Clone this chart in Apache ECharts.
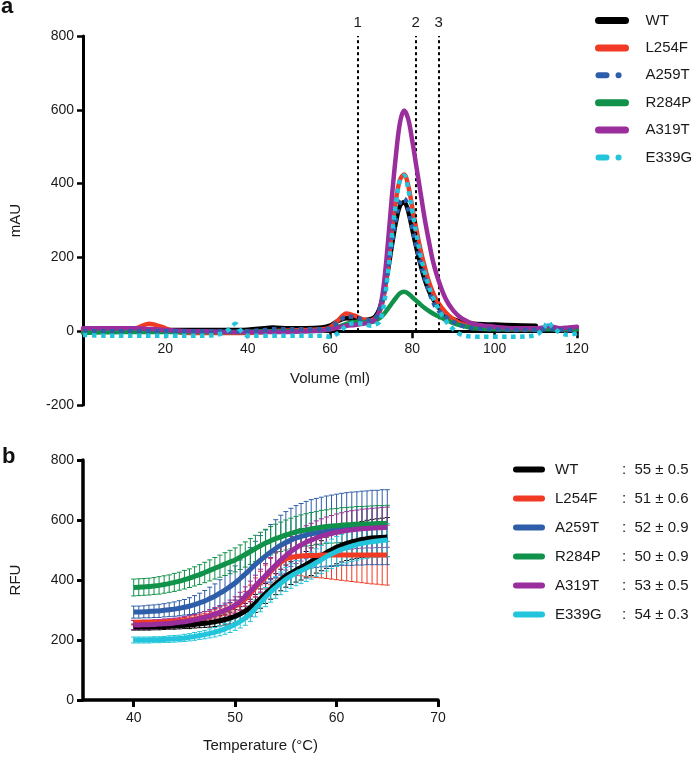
<!DOCTYPE html>
<html>
<head>
<meta charset="utf-8">
<script src="https://cdn.jsdelivr.net/npm/echarts@6/dist/echarts.min.js"></script>
<style>
html,body{margin:0;padding:0;background:#fff;}
#chart{width:700px;height:757px;}
</style>
</head>
<body>
<div id="chart"></div>
<script>
// ---------- Panel a: size-exclusion chromatography ----------
const seriesNames = ['WT', 'L254F', 'A259T', 'R284P', 'A319T', 'E339G'];
const volume = [0, 5, 10, 13, 16, 19, 22, 26, 30, 34, 36, 37, 38, 40, 44, 46, 50, 54, 58, 60,
  62, 64, 66, 68, 70, 71, 72, 73, 74, 75, 76, 77, 78, 79, 80, 81, 82, 83, 84, 85,
  86, 88, 90, 92, 95, 100, 105, 110, 112, 113, 114, 116, 118, 120];
const absWT = [5, 5, 5, 5, 5, 5, 3, 3, 3, 3, 3, 3, 3, 4, 8, 10, 8, 8, 10, 15,
  28, 35, 33, 30, 33, 40, 60, 100, 160, 230, 295, 340, 350, 325, 275, 225, 180, 140, 110, 88,
  70, 45, 32, 25, 20, 18, 16, 15, null, null, null, null, null, null];
const absL254F = [3, 3, 3, 8, 20, 12, 0, -5, -5, -5, -5, -5, -5, -5, -3, 0, 2, 3, 5, 10,
  30, 48, 42, 32, 30, 35, 50, 90, 170, 270, 355, 410, 425, 395, 335, 275, 220, 175, 135, 105,
  82, 52, 32, 20, 12, 8, 5, 5, 8, 10, 8, 5, 5, 5];
const absA259T = [0, 0, 0, 0, 0, 0, 0, 0, 0, 0, 0, 0, 0, 0, 3, 5, 5, 5, 5, 8,
  25, 40, 38, 32, 30, 35, 55, 95, 160, 235, 305, 350, 360, 330, 280, 230, 185, 145, 110, 80,
  60, 40, 25, 15, 8, 5, 3, 3, 5, 8, 6, 3, 3, 3];
const absR284P = [-5, -3, -2, -2, -2, -2, -2, -2, -2, -2, -2, -2, -2, -2, 0, 0, 0, 0, 2, 5,
  12, 20, 25, 25, 25, 28, 35, 45, 60, 75, 90, 103, 107, 102, 92, 82, 72, 63, 55, 48,
  42, 32, 22, 15, 8, 5, 5, 5, 5, 5, 5, 5, 5, 5];
const absA319T = [8, 8, 8, 8, 6, 4, 2, 0, 0, -2, -2, -2, -2, -2, -2, -2, -2, 0, 2, 5,
  10, 15, 17, 20, 25, 32, 55, 120, 230, 360, 475, 565, 598, 575, 515, 445, 375, 305, 245, 190,
  150, 90, 55, 35, 20, 12, 8, 8, 10, 15, 12, 8, 10, 12];
const absE339G = [-10, -12, -12, -12, -12, -12, -12, -12, -12, -5, 10, 20, 5, -12, -12, -12, -12, -12, -12, -15,
  -5, 15, 22, 20, 15, 18, 25, 65, 150, 255, 345, 410, 422, 385, 325, 262, 205, 160, 122, 92,
  68, 30, 5, -10, -15, -15, -15, -10, 10, 25, 12, -5, -10, -5];
const fractionVolumes = [66.7, 80.8, 86.4];
const fractionLabels = ['1', '2', '3'];
const volumeTicks = [0, 20, 40, 60, 80, 100, 120];
const mauTicks = [-200, 0, 200, 400, 600, 800];

// ---------- Panel b: thermal shift ----------
const tempC = [40, 40.5, 41, 41.5, 42, 42.5, 43, 43.5, 44, 44.5,
  45, 45.5, 46, 46.5, 47, 47.5, 48, 48.5, 49, 49.5,
  50, 50.5, 51, 51.5, 52, 52.5, 53, 53.5, 54, 54.5,
  55, 55.5, 56, 56.5, 57, 57.5, 58, 58.5, 59, 59.5,
  60, 60.5, 61, 61.5, 62, 62.5, 63, 63.5, 64, 64.5, 65];
const rfuWT = [243,243,243,243,244,244,245,246,247,248,
  249,250,252,254,256,258,261,264,268,273,
  279,287,296,308,322,338,355,370,386,400,
  413,423,433,442,451,461,471,481,491,500,
  509,516,522,527,531,535,538,540,541,542,543];
const rfuL254F = [258,258,258,258,259,259,260,261,262,263,
  265,267,270,273,277,282,287,292,298,305,
  313,323,337,355,375,393,410,428,445,459,
  470,475,478,480,481,482,482,483,483,483,
  483,483,483,483,483,483,483,483,483,483,483];
const rfuA259T = [293,293,294,295,296,297,299,301,303,306,
  309,313,318,324,330,338,346,356,366,378,
  390,405,420,436,452,466,480,493,505,516,
  525,533,540,545,550,554,557,560,563,565,
  567,569,570,571,572,573,574,575,575,576,576];
const rfuR284P = [375,376,377,378,380,382,385,388,392,396,
  401,406,412,418,425,432,439,446,453,460,
  467,476,485,495,505,514,523,531,538,544,
  550,555,560,564,567,570,573,576,578,580,
  581,583,584,585,586,586,587,587,588,588,589];
const rfuA319T = [250,250,251,251,252,253,254,255,257,259,
  261,264,267,271,275,280,286,292,299,307,
  316,329,345,362,380,398,415,433,450,466,
  481,495,507,517,526,533,540,546,551,555,
  559,562,565,567,569,571,572,573,574,575,576];
const rfuE339G = [200,200,200,200,201,201,202,203,204,205,
  207,209,212,215,218,222,226,231,237,244,
  252,262,273,288,305,324,343,360,375,389,
  402,413,423,431,439,448,458,468,478,487,
  495,502,508,513,518,522,525,528,530,532,533];
const errWT = [10,10,10,10,10,10,10,10,11,11,11,12,12,13,14,15,16,17,18,20,22,24,26,28,30,32,33,34,35,36,37,38,40,42,44,46,48,50,52,54,55,56,57,58,59,60,61,62,63,64,65];
const errL254F = [8,8,8,8,8,8,9,9,9,9,10,10,11,11,12,13,14,15,16,18,20,22,25,28,32,36,40,44,48,52,56,60,63,66,69,72,74,76,78,80,82,84,86,88,90,92,94,96,97,99,100];
const errA259T = [20,20,20,21,21,22,22,23,24,25,26,28,30,32,35,38,41,45,49,53,57,62,67,72,77,82,87,92,96,100,103,106,108,110,112,114,115,116,117,118,119,120,121,122,122,123,123,124,124,125,125];
const errR284P = [28,28,28,28,28,29,29,29,30,30,31,31,32,33,34,35,36,37,38,39,40,41,42,43,44,45,46,47,48,49,50,51,52,53,54,55,55,56,56,57,57,58,58,58,59,59,59,60,60,60,60];
const errA319T = [15,15,15,15,15,15,16,16,16,17,17,18,18,19,20,21,22,23,24,26,28,30,32,34,36,38,40,42,44,46,48,50,52,54,55,56,57,58,59,60,61,62,63,64,64,65,65,66,66,67,67];
const errE339G = [10,10,10,10,10,10,10,11,11,11,12,12,13,13,14,15,16,17,18,19,20,22,24,26,28,30,32,34,36,38,40,41,42,43,44,45,46,47,48,49,50,50,51,51,52,52,53,53,54,54,55];
const tmMean = [55, 51, 52, 50, 53, 54];
const tmErr = [0.5, 0.6, 0.9, 0.9, 0.5, 0.3];
const tempTicks = [40, 50, 60, 70];
const rfuTicks = [0, 200, 400, 600, 800];

// ---------- styling ----------
const colors = ['#000000', '#f03a24', '#2e5ea9', '#11924a', '#9a2e9c', '#22c5db'];
const dotted = [false, false, true, false, false, true];
const FONT = 'Liberation Sans, Arial, Helvetica, sans-serif';
const absData = [absWT, absL254F, absA259T, absR284P, absA319T, absE339G];
const rfuData = [rfuWT, rfuL254F, rfuA259T, rfuR284P, rfuA319T, rfuE339G];
const errData = [errWT, errL254F, errA259T, errR284P, errA319T, errE339G];

const chart = echarts.init(document.getElementById('chart'), null, {renderer: 'canvas'});

const labelStyle = {color: '#1a1a1a', fontSize: 14, fontFamily: FONT};
const nameStyle = {color: '#1a1a1a', fontSize: 15, fontFamily: FONT};

// grid a geometry: top 36, bottom 352 -> height 369 for -200..800
const gridATop = 36, gridABottom = 352;
const gridAHeight = 757 - gridATop - gridABottom;
const zeroOffset = -gridAHeight * 200 / 1000;

const series = [];
const orderA = [0, 1, 3, 4, 2, 5];
orderA.forEach(function (i, k) {
  const s = {
    name: seriesNames[i], type: 'line', xAxisIndex: 0, yAxisIndex: 0,
    data: volume.map(function (v, j) { return [v, absData[i][j]]; }),
    smooth: 0.35, symbol: 'none', connectNulls: false, z: 3 + k,
    lineStyle: dotted[i]
      ? {color: colors[i], width: 4.5, type: [4.5, 4.5], cap: 'butt'}
      : {color: colors[i], width: 4.5, cap: 'round', join: 'round'},
    itemStyle: {color: colors[i]}
  };
  if (k === 0) {
    s.markLine = {
      silent: true, symbol: ['none', 'none'], animation: false,
      lineStyle: {color: '#000', width: 2, type: [3, 3]},
      label: {show: true, position: 'end', distance: 6, formatter: '{b}', color: '#1a1a1a', fontSize: 15, fontFamily: FONT},
      data: fractionVolumes.map(function (v, j) {
        return [{coord: [v, 0], name: fractionLabels[j]}, {coord: [v, 800]}];
      })
    };
  }
  series.push(s);
});

seriesNames.forEach(function (name, i) {
  const col = colors[i];
  series.push({
    name: name, type: 'custom', xAxisIndex: 1, yAxisIndex: 1, z: 2, silent: true,
    data: tempC.map(function (t, j) { return [t, rfuData[i][j] - errData[i][j], rfuData[i][j] + errData[i][j]]; }),
    encode: {x: 0, y: [1, 2]},
    renderItem: function (params, api) {
      const x = api.value(0);
      const lo = api.coord([x, api.value(1)]);
      const hi = api.coord([x, api.value(2)]);
      const w = 2.5;
      const st = {stroke: col, lineWidth: 1};
      return {type: 'group', children: [
        {type: 'line', shape: {x1: lo[0], y1: lo[1], x2: hi[0], y2: hi[1]}, style: st},
        {type: 'line', shape: {x1: lo[0] - w, y1: lo[1], x2: lo[0] + w, y2: lo[1]}, style: st},
        {type: 'line', shape: {x1: hi[0] - w, y1: hi[1], x2: hi[0] + w, y2: hi[1]}, style: st}
      ]};
    }
  });
});
seriesNames.forEach(function (name, i) {
  series.push({
    name: name, type: 'line', xAxisIndex: 1, yAxisIndex: 1, z: 5 + i,
    data: tempC.map(function (t, j) { return [t, rfuData[i][j]]; }),
    smooth: true, symbol: 'none',
    lineStyle: {color: colors[i], width: 5, cap: 'butt'},
    itemStyle: {color: colors[i]}
  });
});

const option = {
  animation: false,
  backgroundColor: '#fff',
  textStyle: {fontFamily: FONT},
  graphic: [
    {type: 'text', left: 1, top: -4, style: {text: 'a', fontSize: 22, fontWeight: 'bold', fontFamily: FONT, fill: '#111'}},
    {type: 'text', left: 2, top: 446, style: {text: 'b', fontSize: 22, fontWeight: 'bold', fontFamily: FONT, fill: '#111'}}
  ],
  grid: [
    {left: 82, right: 123, top: gridATop, bottom: gridABottom},
    {left: 80, right: 262, top: 460, bottom: 57}
  ],
  xAxis: [
    {gridIndex: 0, type: 'value', min: 0, max: 120, interval: 20, position: 'bottom', offset: zeroOffset,
      axisLine: {show: true, onZero: false, lineStyle: {color: '#000', width: 3}},
      axisTick: {show: true, length: 7, inside: false, lineStyle: {color: '#000', width: 2.5}},
      axisLabel: Object.assign({}, labelStyle, {margin: 11, formatter: function (v) { return v === 0 ? '' : String(v); }}),
      splitLine: {show: false},
      name: 'Volume (ml)', nameLocation: 'middle', nameGap: 40, nameTextStyle: nameStyle},
    {gridIndex: 1, type: 'value', min: 35, max: 70,
      axisLine: {show: true, onZero: false, lineStyle: {color: '#000', width: 3.5}},
      axisTick: {show: true, length: 7, lineStyle: {color: '#000', width: 3}, customValues: tempTicks},
      axisLabel: Object.assign({}, labelStyle, {margin: 11, customValues: tempTicks}),
      splitLine: {show: false},
      name: 'Temperature (°C)', nameLocation: 'middle', nameGap: 38, nameTextStyle: nameStyle}
  ],
  yAxis: [
    {gridIndex: 0, type: 'value', min: -200, max: 800, interval: 200,
      axisLine: {show: true, onZero: false, lineStyle: {color: '#000', width: 3}},
      axisTick: {show: true, length: 6, lineStyle: {color: '#000', width: 2.5}},
      axisLabel: Object.assign({}, labelStyle, {margin: 9}),
      splitLine: {show: false},
      name: 'mAU', nameLocation: 'middle', nameGap: 60, nameTextStyle: nameStyle},
    {gridIndex: 1, type: 'value', min: 0, max: 800, interval: 200,
      axisLine: {show: true, onZero: false, lineStyle: {color: '#000', width: 3.5}},
      axisTick: {show: true, length: 6, lineStyle: {color: '#000', width: 3}},
      axisLabel: Object.assign({}, labelStyle, {margin: 9}),
      splitLine: {show: false},
      name: 'RFU', nameLocation: 'middle', nameGap: 60, nameTextStyle: nameStyle}
  ],
  legend: [
    {orient: 'vertical', left: 590, top: 8, itemWidth: 27, itemHeight: 14, itemGap: 12.4,
      selectedMode: false,
      textStyle: {color: '#1a1a1a', fontSize: 15, fontFamily: FONT, padding: [0, 0, 0, 15]},
      data: seriesNames.map(function (n, i) {
        return {name: n, itemStyle: {color: colors[i], opacity: 0},
          lineStyle: dotted[i]
            ? {color: colors[i], width: 6, type: [8, 12, 0.1, 20], cap: 'round'}
            : {color: colors[i], width: 7, type: 'solid', cap: 'round'}};
      })},
    {orient: 'vertical', left: 508, top: 457, itemWidth: 26, itemHeight: 14, itemGap: 14,
      selectedMode: false,
      formatter: function (name) {
        const i = seriesNames.indexOf(name);
        return '{n|' + name + '}{v|:  ' + tmMean[i] + ' ± ' + tmErr[i] + '}';
      },
      textStyle: {color: '#1a1a1a', fontSize: 15, fontFamily: FONT, padding: [0, 0, 0, 8],
        rich: {n: {width: 67, fontSize: 15, fontFamily: FONT, color: '#1a1a1a'},
               v: {fontSize: 15, fontFamily: FONT, color: '#1a1a1a'}}},
      data: seriesNames.map(function (n, i) {
        return {name: n, itemStyle: {color: colors[i], opacity: 0},
          lineStyle: {color: colors[i], width: 6, type: 'solid', cap: 'round'}};
      })}
  ],
  series: series
};
chart.setOption(option);
</script>
</body>
</html>
